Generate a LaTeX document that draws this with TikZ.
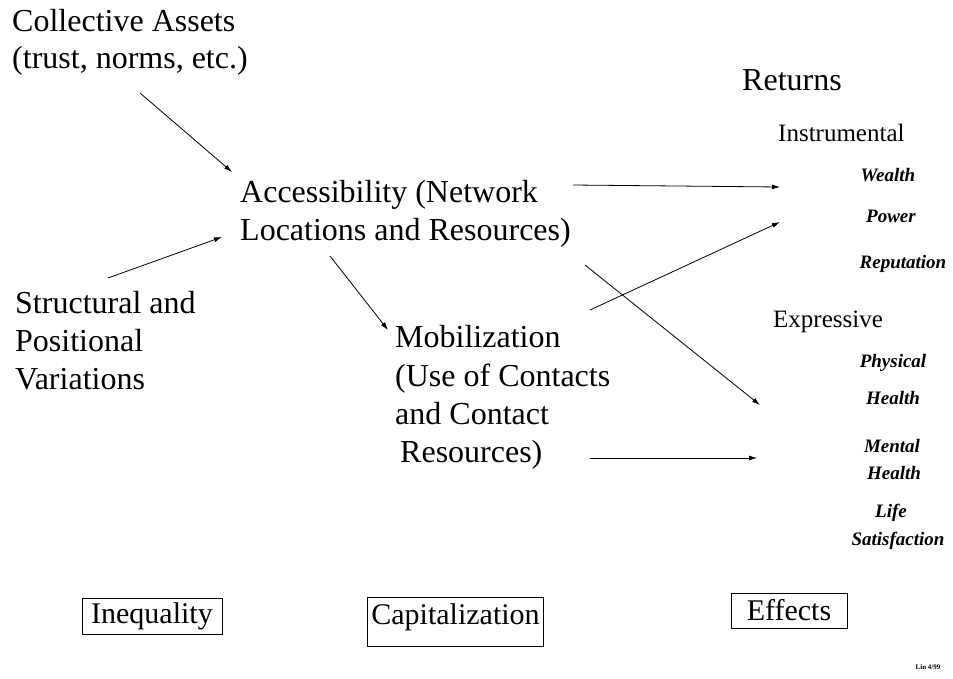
\documentclass[tikz,border=0pt]{standalone}
\usepackage{fontspec}
\setmainfont{Liberation Serif}
\usetikzlibrary{arrows.meta}
\begin{document}
\begin{tikzpicture}[x=1pt,y=-1pt,
  main/.style={font=\fontsize{32}{38}\selectfont, inner sep=0pt, anchor=base west},
  sub/.style={font=\fontsize{25}{28}\selectfont, inner sep=0pt, anchor=base west},
  item/.style={font=\fontsize{19}{22}\selectfont\bfseries\itshape, inner sep=0pt, anchor=base},
  lab/.style={draw, line width=0.9pt, font=\fontsize{30}{34}\selectfont, inner sep=0pt},
  arr/.style={-{Latex[length=8pt,width=5pt]}, line width=0.8pt}]
\useasboundingbox (0,0) rectangle (953,678);
% left column
\node[main] (ca1) at (12,31) {Collective Assets};
\node[main] (ca2) at (12,68) {(trust, norms, etc.)};
\node[main] (acc1) at (240,202) {Accessibility (Network};
\node[main] (acc2) at (240,240) {Locations and Resources)};
\node[main] (st1) at (15,313) {Structural and};
\node[main] (st2) at (15,351) {Positional};
\node[main] (st3) at (15,389) {Variations};
\node[main] (mob1) at (395,347) {Mobilization};
\node[main] (mob2) at (395,386) {(Use of Contacts};
\node[main] (mob3) at (395,424) {and Contact};
\node[main] (mob4) at (400,462) {Resources)};
% right column
\node[main] (ret) at (742,90) {Returns};
\node[sub] (ins) at (778,141) {Instrumental};
\node[item] (wea) at (888,181) {Wealth};
\node[item] (pow) at (891,222) {Power};
\node[item] (rep) at (903,268) {Reputation};
\node[sub] (exr) at (773,327) {Expressive};
\node[item] (phy) at (893,367) {Physical};
\node[item] (hea1) at (893,404) {Health};
\node[item] (men) at (892,452) {Mental};
\node[item] (hea2) at (894,479) {Health};
\node[item] (life) at (891,517) {Life};
\node[item] (sat) at (898,545) {Satisfaction};
% bottom boxes
\node[lab, minimum width=140pt, minimum height=36pt] (ineq) at (152,616) {Inequality};
\node[lab, minimum width=176pt, minimum height=49pt, text depth=14pt] (cap) at (455.5,621.5) {Capitalization};
\node[lab, minimum width=116pt, minimum height=35pt] (eff) at (789,610.5) {Effects};
\node[font=\fontsize{7}{8}\selectfont\bfseries, inner sep=0pt] (lin) at (928,667) {Lin 4/99};
% connector ends
\coordinate (a1s) at (140,93);   \coordinate (a1e) at (232,172);
\coordinate (a2s) at (108,278);  \coordinate (a2e) at (222,237);
\coordinate (a3s) at (330,256);  \coordinate (a3e) at (388,330);
\coordinate (a4s) at (573,185);  \coordinate (a4e) at (780,187);
\coordinate (a5s) at (590,310);  \coordinate (a5e) at (780,222);
\coordinate (a6s) at (585,265);  \coordinate (a6e) at (760,405);
\coordinate (a7s) at (590,458);  \coordinate (a7e) at (757,458);
\draw[arr] (a1s) -- (a1e);
\draw[arr] (a2s) -- (a2e);
\draw[arr] (a3s) -- (a3e);
\draw[arr] (a4s) -- (a4e);
\draw[arr] (a5s) -- (a5e);
\draw[arr] (a6s) -- (a6e);
\draw[arr] (a7s) -- (a7e);
\end{tikzpicture}
\end{document}
